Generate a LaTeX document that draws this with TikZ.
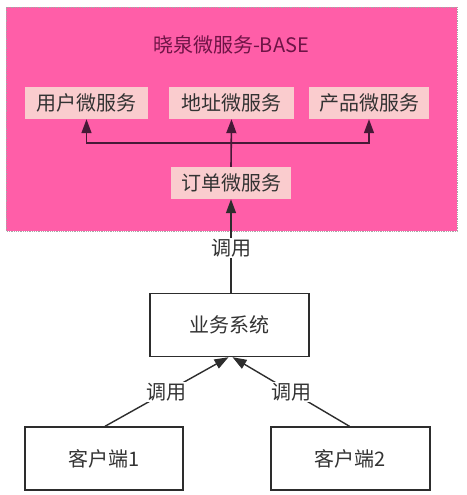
\documentclass[tikz,border=0pt]{standalone}
\usepackage{fontspec}
\setmainfont{Noto Sans CJK SC}
\usetikzlibrary{arrows.meta}
\definecolor{bgpink}{RGB}{255,94,168}
\definecolor{boxpink}{RGB}{250,204,206}
\definecolor{titlecol}{RGB}{110,20,70}
\definecolor{innerline}{RGB}{70,25,55}
\definecolor{outerline}{RGB}{45,45,45}
\tikzset{
  svc/.style={fill=boxpink, draw=none, minimum width=122pt, minimum height=32pt, inner sep=0pt, text=black!80, font=\fontsize{20}{22}\selectfont},
  sysbox/.style={draw=outerline, line width=1.4pt, fill=white, minimum height=63pt, inner sep=0pt, text=black!80, font=\fontsize{20}{22}\selectfont},
  innerarrow/.style={draw=innerline, line width=1.6pt, -{Triangle[length=14pt,width=10pt]}},
  outerarrow/.style={draw=outerline, line width=1.4pt, -{Triangle[length=14pt,width=10pt]}},
  calllabel/.style={fill=white, inner sep=1pt, text=black!80, font=\fontsize{20}{22}\selectfont}
}
\begin{document}
\begin{tikzpicture}[x=1pt,y=-1pt]
\useasboundingbox (0,0) rectangle (466,495);
\fill[white] (0,0) rectangle (466,495);
\draw[fill=bgpink, draw=gray!70, densely dotted, line width=0.8pt] (6,7) rectangle (457,231);
\node[text=titlecol, font=\fontsize{20}{22}\selectfont] (title) at (231,45) {晓泉微服务-BASE};
\node[svc, minimum width=123pt] (user) at (86.5,103) {用户微服务};
\node[svc, minimum width=125pt] (addr) at (231.5,103) {地址微服务};
\node[svc, minimum width=120pt] (prod) at (369,103) {产品微服务};
\node[svc, minimum width=120pt] (order) at (231,183) {订单微服务};
\coordinate (hub) at (231,143);
\draw[innerarrow] (order.north) -- (addr.south);
\draw[innerarrow] (hub) -| (user.south);
\draw[innerarrow] (hub) -| (prod.south);
\node[sysbox, minimum width=159pt] (biz) at (229.5,325) {业务系统};
\node[sysbox, minimum width=158pt] (c1) at (104,458.5) {客户端1};
\node[sysbox, minimum width=159pt] (c2) at (350.5,458.5) {客户端2};
\draw[outerarrow] (biz.north -| order.south) -- node[calllabel, pos=0.48] (l0) {调用} (order.south);
\draw[outerarrow] ([xshift=1pt]c1.north) -- node[calllabel] (l1) {调用} ([xshift=-1pt]biz.south);
\draw[outerarrow] ([xshift=-1pt]c2.north) -- node[calllabel] (l2) {调用} ([xshift=3pt]biz.south);
\end{tikzpicture}
\end{document}
